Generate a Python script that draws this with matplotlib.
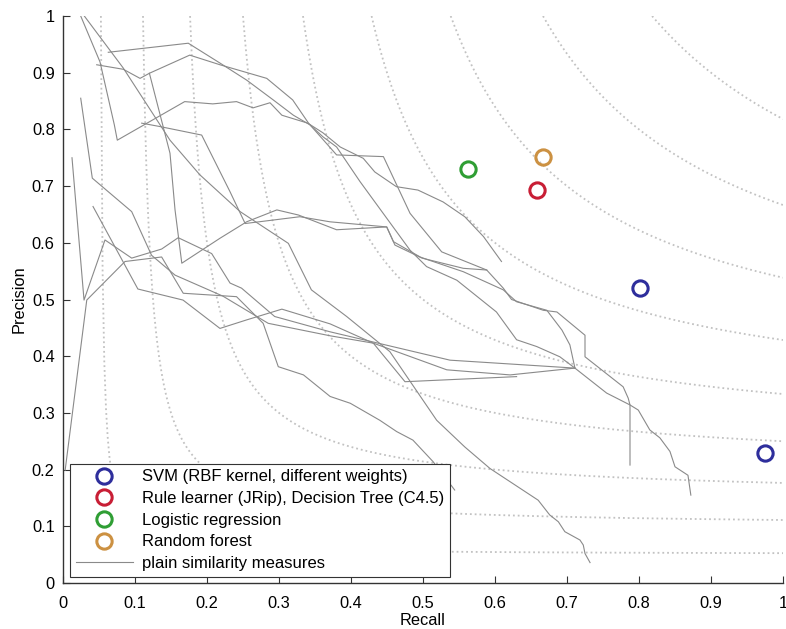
import matplotlib

matplotlib.use("Agg")
import matplotlib.pyplot as plt
import numpy as np
from matplotlib.lines import Line2D

plt.rcParams["font.family"] = ["Liberation Sans", "DejaVu Sans"]

# F-measure levels for the dotted iso-F guides
F_LEVELS = [0.1, 0.2, 0.3, 0.4, 0.5, 0.6, 0.7, 0.8, 0.9]

# classifier operating points (recall, precision)
svm_recall = [0.801, 0.975]
svm_precision = [0.520, 0.229]
rule_recall = [0.658]
rule_precision = [0.693]
logreg_recall = [0.562]
logreg_precision = [0.731]
forest_recall = [0.667]
forest_precision = [0.752]

# precision/recall curves of the plain similarity measures
sim1_recall = [0.0246, 0.0514, 0.0713, 0.0754, 0.169, 0.208, 0.241, 0.264, 0.2875, 0.304, 0.340,
               0.361, 0.385, 0.417, 0.433, 0.463, 0.493, 0.528, 0.558, 0.584, 0.609]
sim1_precision = [1.0, 0.919, 0.808, 0.781, 0.849, 0.845, 0.849, 0.838, 0.847, 0.825, 0.811,
                  0.794, 0.769, 0.749, 0.725, 0.699, 0.693, 0.672, 0.646, 0.611, 0.567]

sim2_recall = [0.0629, 0.174, 0.218, 0.255, 0.292, 0.320, 0.343, 0.361, 0.380, 0.4125, 0.482,
               0.505, 0.547, 0.602, 0.630, 0.658, 0.690, 0.711, 0.755, 0.7875, 0.799, 0.815,
               0.829, 0.843, 0.850, 0.868, 0.872]
sim2_precision = [0.936, 0.952, 0.917, 0.887, 0.852, 0.825, 0.808, 0.787, 0.769, 0.708, 0.587,
                  0.558, 0.534, 0.478, 0.429, 0.417, 0.399, 0.379, 0.335, 0.314, 0.305, 0.270,
                  0.256, 0.232, 0.205, 0.190, 0.155]

sim3_recall = [0.0468, 0.0838, 0.107, 0.120, 0.176, 0.218, 0.283, 0.319, 0.341, 0.380, 0.445,
               0.482, 0.526, 0.5885, 0.6115, 0.623, 0.667, 0.686, 0.725, 0.725, 0.778, 0.785,
               0.7875, 0.7875]
sim3_precision = [0.914, 0.906, 0.890, 0.899, 0.931, 0.914, 0.890, 0.852, 0.811, 0.755, 0.752,
                  0.652, 0.584, 0.552, 0.520, 0.500, 0.481, 0.478, 0.437, 0.399, 0.346, 0.326,
                  0.314, 0.208]

sim4_recall = [0.0296, 0.0838, 0.1486, 0.190, 0.246, 0.313, 0.345, 0.394, 0.454, 0.519, 0.558,
               0.593, 0.660, 0.676, 0.688, 0.697, 0.718, 0.7226, 0.725, 0.732]
sim4_precision = [1.0, 0.908, 0.781, 0.720, 0.655, 0.599, 0.517, 0.470, 0.408, 0.287, 0.240,
                  0.202, 0.146, 0.120, 0.108, 0.0905, 0.0758, 0.067, 0.052, 0.036]

sim5_recall = [0.1093, 0.1347, 0.1926, 0.232, 0.253, 0.329, 0.371, 0.4496, 0.459, 0.496, 0.507,
               0.556, 0.6115, 0.630, 0.672, 0.693, 0.704, 0.711]
sim5_precision = [0.811, 0.805, 0.790, 0.690, 0.634, 0.646, 0.637, 0.628, 0.602, 0.575, 0.570,
                  0.549, 0.517, 0.496, 0.481, 0.446, 0.420, 0.379]

sim6_recall = [0.120, 0.1486, 0.1556, 0.165, 0.218, 0.255, 0.297, 0.327, 0.380, 0.4496, 0.461,
               0.4986, 0.556, 0.5885]
sim6_precision = [0.899, 0.758, 0.658, 0.564, 0.608, 0.637, 0.658, 0.649, 0.623, 0.628, 0.596,
                  0.573, 0.555, 0.552]

sim7_recall = [0.0417, 0.104, 0.1667, 0.218, 0.255, 0.304, 0.371, 0.431, 0.533, 0.621, 0.711]
sim7_precision = [0.664, 0.5185, 0.499, 0.449, 0.464, 0.483, 0.457, 0.423, 0.376, 0.367, 0.379]

sim8_recall = [0.0125, 0.0292, 0.0583, 0.0954, 0.137, 0.160, 0.2065, 0.232, 0.248, 0.294, 0.371,
               0.5375, 0.711]
sim8_precision = [0.750, 0.499, 0.605, 0.573, 0.589, 0.609, 0.581, 0.529, 0.520, 0.470, 0.443,
                  0.393, 0.379]

sim9_recall = [0.003, 0.033, 0.0861, 0.137, 0.167, 0.241, 0.278, 0.299, 0.334, 0.371, 0.399,
               0.440, 0.4635, 0.486, 0.514, 0.544]
sim9_precision = [0.199, 0.499, 0.567, 0.575, 0.511, 0.505, 0.458, 0.3815, 0.367, 0.329, 0.317,
                  0.287, 0.267, 0.252, 0.214, 0.164]

sim10_recall = [0.0246, 0.0407, 0.0954, 0.123, 0.1556, 0.222, 0.285, 0.371, 0.431, 0.475, 0.630]
sim10_precision = [0.855, 0.714, 0.655, 0.578, 0.543, 0.506, 0.458, 0.436, 0.423, 0.355, 0.364]

SIM_CURVES = [
    (sim1_recall, sim1_precision),
    (sim2_recall, sim2_precision),
    (sim3_recall, sim3_precision),
    (sim4_recall, sim4_precision),
    (sim5_recall, sim5_precision),
    (sim6_recall, sim6_precision),
    (sim7_recall, sim7_precision),
    (sim8_recall, sim8_precision),
    (sim9_recall, sim9_precision),
    (sim10_recall, sim10_precision),
]

SIM_COLOR = "#8a8a8a"
ISO_COLOR = "#c2c2c2"
AXIS_COLOR = "#333333"


def main():
    fig = plt.figure(figsize=(7.86, 6.29), dpi=100)
    ax = fig.add_axes([63 / 786, 46 / 629, 720 / 786, 567 / 629])

    # iso-F curves: p = F r / (2r - F)
    for f in F_LEVELS:
        r = np.linspace(f / (2 - f), 1.0, 400)
        p = f * r / (2 * r - f)
        ax.plot(r, p, linestyle=":", color=ISO_COLOR, linewidth=1.3, zorder=1)

    for rec, prec in SIM_CURVES:
        ax.plot(rec, prec, color=SIM_COLOR, linewidth=0.8, zorder=2)

    marker_kw = dict(linestyle="none", marker="o", markersize=11, markeredgewidth=2.2,
                     markerfacecolor="none", zorder=3)
    ax.plot(svm_recall, svm_precision, markeredgecolor="#2e2e9c", **marker_kw)
    ax.plot(rule_recall, rule_precision, markeredgecolor="#c81e35", **marker_kw)
    ax.plot(logreg_recall, logreg_precision, markeredgecolor="#2f9e34", **marker_kw)
    ax.plot(forest_recall, forest_precision, markeredgecolor="#cc9142", **marker_kw)

    ax.set_xlim(0, 1)
    ax.set_ylim(0, 1)
    ticks = np.arange(0, 11) / 10
    labels = ["0"] + [f"{t:g}" for t in ticks[1:-1]] + ["1"]
    ax.set_xticks(ticks)
    ax.set_xticklabels(labels)
    ax.set_yticks(ticks)
    ax.set_yticklabels(labels)
    ax.tick_params(direction="in", length=5, width=0.8, colors=AXIS_COLOR,
                   labelcolor="black", labelsize=11.8)
    ax.tick_params(axis="x", pad=9)
    ax.tick_params(axis="y", pad=6)
    for side in ("top", "right"):
        ax.spines[side].set_visible(False)
    for side in ("left", "bottom"):
        ax.spines[side].set_color(AXIS_COLOR)
        ax.spines[side].set_linewidth(1.0)

    ax.set_xlabel("Recall", fontsize=11.8, labelpad=1.5)
    ax.set_ylabel("Precision", fontsize=11.8)

    legend_marker = dict(linestyle="none", marker="o", markersize=11, markeredgewidth=2.2,
                         markerfacecolor="none")
    handles = [
        Line2D([], [], markeredgecolor="#2e2e9c", **legend_marker),
        Line2D([], [], markeredgecolor="#c81e35", **legend_marker),
        Line2D([], [], markeredgecolor="#2f9e34", **legend_marker),
        Line2D([], [], markeredgecolor="#cc9142", **legend_marker),
        Line2D([], [], color=SIM_COLOR, linewidth=0.8),
    ]
    names = [
        "SVM (RBF kernel, different weights)",
        "Rule learner (JRip), Decision Tree (C4.5)",
        "Logistic regression",
        "Random forest",
        "plain similarity measures",
    ]
    leg = ax.legend(handles, names, loc="lower left", bbox_to_anchor=(7 / 720, 6 / 567),
                    borderaxespad=0, fontsize=12, fancybox=False, framealpha=1,
                    edgecolor=AXIS_COLOR, handlelength=3.4, handletextpad=0.55,
                    borderpad=0.35, labelspacing=0.4)
    leg.get_frame().set_linewidth(0.8)
    leg.set_zorder(5)

    fig.savefig("out.png", dpi=100)
    plt.close(fig)


if __name__ == "__main__":
    main()
